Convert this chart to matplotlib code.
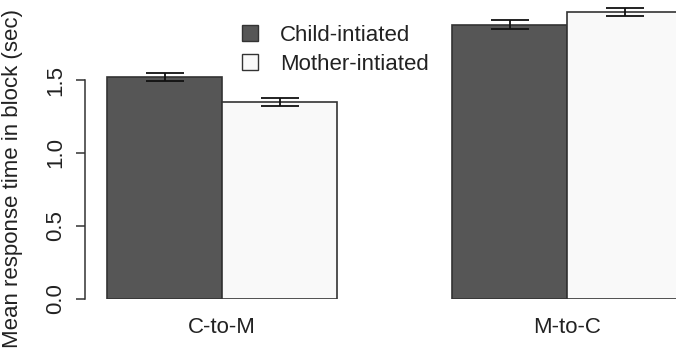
import matplotlib.pyplot as plt
import numpy as np
from matplotlib.patches import Patch

plt.rcParams['font.family'] = ['Liberation Sans', 'DejaVu Sans']

# Data
groups = ['C-to-M', 'M-to-C']
series = ['Child-intiated', 'Mother-intiated']
means = {'Child-intiated': [1.52, 1.88], 'Mother-intiated': [1.35, 1.965]}
errs = {'Child-intiated': [0.025, 0.03], 'Mother-intiated': [0.03, 0.03]}
colors = {'Child-intiated': '#565656', 'Mother-intiated': '#f9f9f9'}
yticks = [0.0, 0.5, 1.0, 1.5]

W, H = 676, 358
fs = 16
fig = plt.figure(figsize=(W / 100, H / 100), dpi=100)
# axes: left edge at y-axis line (x=85px), bottom at y=0 (299px), top at image top
ax = fig.add_axes([85 / W, (H - 299) / H, (W - 85) / W, 299 / H])

# R style barplot: beside, space=c(0,1)
x0 = np.array([1.0, 4.0])
for i, s in enumerate(series):
    ax.bar(x0 + i, means[s], width=1.0, align='edge', color=colors[s],
           edgecolor='#333333', linewidth=1.2)
    ax.errorbar(x0 + i + 0.5, means[s], yerr=errs[s], fmt='none',
                ecolor='#111111', elinewidth=1.3, capsize=14, capthick=1.3)

ax.set_xlim(1 - 22 / 115, 1 + (W - 107) / 115)
ax.set_ylim(0, 299 / 146)

for sp in ['top', 'right', 'bottom']:
    ax.spines[sp].set_visible(False)
ax.spines['left'].set_bounds(0, 1.5)
ax.spines['left'].set_color('#333333')
ax.spines['left'].set_linewidth(1.1)

ax.set_yticks(yticks)
ax.set_yticklabels(['0.0', '0.5', '1.0', '1.5'], rotation=90, va='center',
                   fontsize=fs, color='#222222')
ax.tick_params(axis='y', length=6.5, width=1.1, color='#333333', pad=7)

ax.set_xticks(x0 + 1)
ax.set_xticklabels(groups, fontsize=fs, color='#222222')
ax.tick_params(axis='x', length=0, pad=13)

fig.text(13 / W, 0.5, 'Mean response time in block (sec)', rotation=90,
         ha='center', va='center', fontsize=fs, color='#222222')

handles = [Patch(facecolor=colors[s], edgecolor='#333333', linewidth=1.0)
           for s in series]
fig.legend(handles, series, loc='upper left', bbox_to_anchor=(242 / W, 1 - 25 / H),
           frameon=False, fontsize=fs, handlelength=0.7, handleheight=0.7,
           handletextpad=1.0, labelspacing=0.35, borderaxespad=0,
           borderpad=0, labelcolor='#222222')

fig.savefig('out.png', dpi=100)
